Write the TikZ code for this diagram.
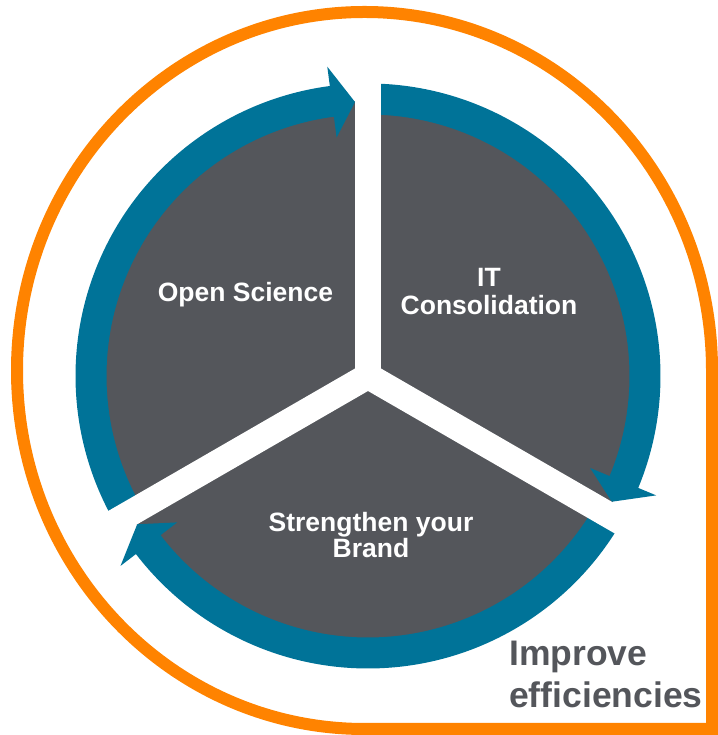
\documentclass[tikz,border=0pt]{standalone}
\usepackage{fontspec}
\setmainfont{Liberation Sans}
\definecolor{orng}{RGB}{255,131,0}
\definecolor{ringblue}{RGB}{0,115,152}
\definecolor{diskgray}{RGB}{84,86,91}
\tikzset{
  sectortext/.style={font=\bfseries\fontsize{26.5}{28}\selectfont, text=white, inner sep=0pt, align=center},
  bigtext/.style={font=\bfseries\fontsize{35.5}{42}\selectfont, text=diskgray, inner sep=0pt, align=left},
  ringfill/.style={fill=ringblue},
  gapband/.style={fill=white}
}
\begin{document}
\begin{tikzpicture}[x=1pt,y=1pt]
\useasboundingbox (0,0) rectangle (717,735);
% orange teardrop outline
\draw[orng, line width=12pt, line join=miter] (712,364.5) arc[start angle=0, end angle=270, x radius=347.5, y radius=358.5] -- (712,6) -- cycle;
\coordinate (C) at (368,359);
% gray disk
\fill[diskgray] (C) circle[radius=275];
\begin{scope}[shift={(C)}]
  \foreach \k in {0,1,2}{
    \begin{scope}[rotate=-120*\k]
      \fill[ringfill] (210:261.5) arc[start angle=210, end angle=97.5, radius=261.5]
        -- (97.5:240.5) -- (-13,274) -- (97.5:312) -- (97.5:292.5)
        arc[start angle=97.5, end angle=210, radius=292.5] -- cycle;
    \end{scope}
  }
  \foreach \k in {0,1,2}{
    \fill[gapband, rotate=-120*\k] (-13,-1) rectangle (13,300);
  }
\end{scope}
% labels
\node[sectortext, anchor=base] (os) at (245.5,433) {Open Science};
\node[sectortext] (it) at (489,443.5) {IT\\Consolidation};
\node[sectortext, font=\bfseries\fontsize{26.5}{26}\selectfont] (sb) at (371,199.75) {Strengthen your\\Brand};
\node[bigtext, anchor=west] (ie) at (509,60.7) {Improve\\efficiencies};
\end{tikzpicture}
\end{document}
